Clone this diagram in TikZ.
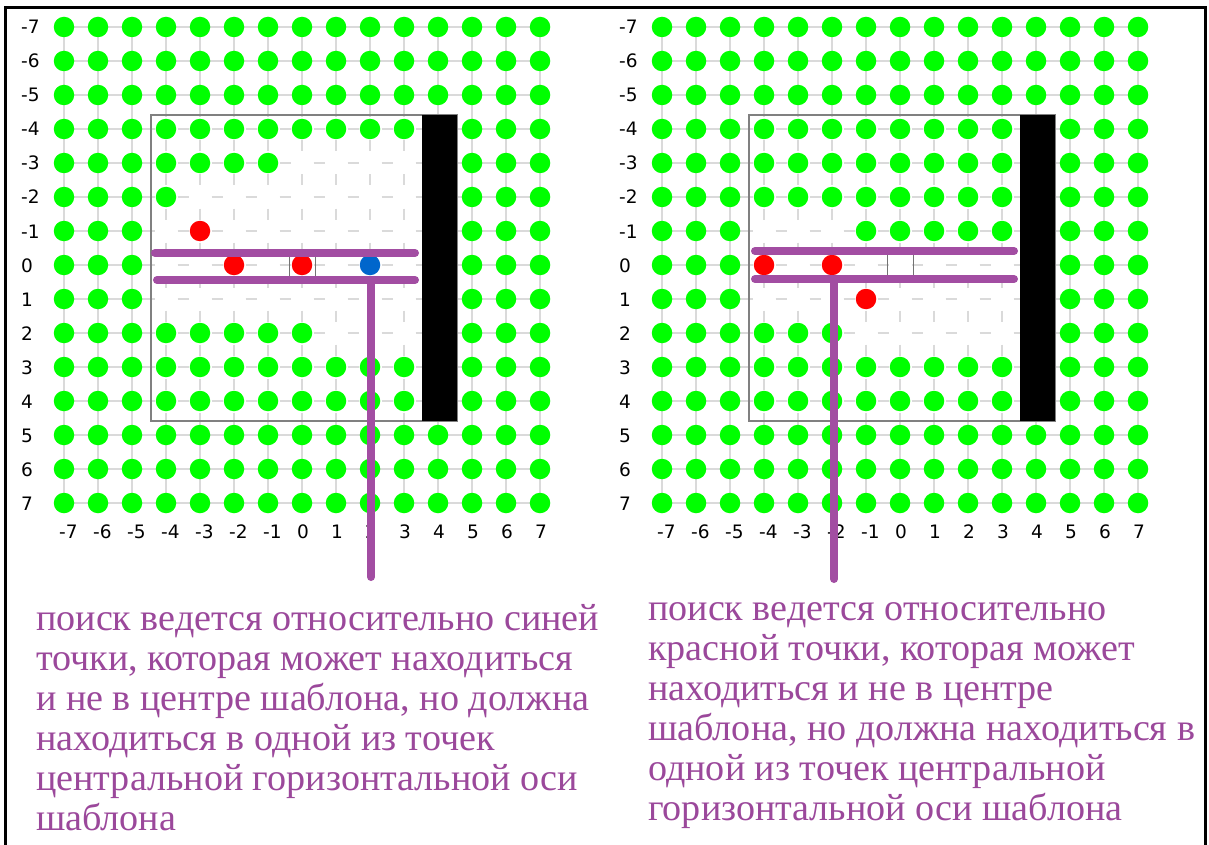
\documentclass[tikz,border=0pt]{standalone}
\usepackage{fontspec}
\setmainfont{Liberation Serif}
\newfontfamily\labfont{DejaVu Sans}
\definecolor{gline}{RGB}{218,218,218}
\definecolor{dotgreen}{RGB}{0,255,0}
\definecolor{pline}{RGB}{162,77,162}
\definecolor{ptext}{RGB}{155,72,155}
\definecolor{bdot}{RGB}{0,102,204}
\tikzset{
  gdot/.style={circle,fill=dotgreen,inner sep=0pt,minimum size=20.5pt},
  rdot/.style={gdot,fill=red},
  bldot/.style={gdot,fill=bdot},
  gridsolid/.style={draw=gline,line width=2.5pt},
  griddash/.style={draw=gline,line width=2pt,dash pattern=on 11pt off 23pt,dash phase=22.5pt},
  tmpl/.style={draw=black!50,line width=1.5pt},
  centbox/.style={draw=black!55,line width=1pt},
  plin/.style={draw=pline,line width=8pt,line cap=round},
  axlab/.style={font=\labfont\fontsize{18.5}{18.5}\selectfont,inner sep=0pt,anchor=base west},
  captxt/.style={font=\fontsize{38.1}{41}\selectfont,text=ptext,inner sep=0pt,anchor=base west},
  frame/.style={draw=black,line width=3pt}
}
% #1 prefix, #2 x of column 0
\newcommand\gridpanel[2]{%
  \foreach \k in {-7,...,7} {
    \draw[gridsolid] ({#2-238},{265+34*\k}) -- ({#2+238},{265+34*\k});
    \draw[gridsolid] ({#2+34*\k},27) -- ({#2+34*\k},503);
  }
  \fill[white] ({#2-151},115) rectangle ({#2+155},421);
  \begin{scope}
    \clip ({#2-151},115) rectangle ({#2+155},421);
    \foreach \k in {-4,...,4} {
      \draw[griddash] ({#2-170},{265+34*\k}) -- ({#2+170},{265+34*\k});
      \draw[griddash] ({#2+34*\k},95) -- ({#2+34*\k},435);
    }
  \end{scope}
  \draw[tmpl] ({#2-151},115) rectangle ({#2+155},421);
  \fill[black] ({#2+120},115) rectangle ({#2+155},421);
  \draw[centbox] ({#2-13},252) rectangle ({#2+13},278);
  \foreach \k in {-7,...,7} {
    \node[axlab] (#1row\k) at ({#2-281},{265+34*\k+7}) {\k};
    \node[axlab] (#1col\k) at ({#2+34*\k-5},538) {\k};
  }
}
% #1 prefix, #2 x of column 0, #3 rows spec
\newcommand\dotrows[3]{%
  \foreach \r/\cl in {#3} {
    \foreach \c in \cl {
      \node[gdot] (#1d\r x\c) at ({#2+34*\c},{265+34*\r}) {};
    }
  }
}
\begin{document}
\begin{tikzpicture}[x=1pt,y=-1pt]
\useasboundingbox (0,0) rectangle (1209,845);
\fill[white] (0,0) rectangle (1209,845);

% ---------- left panel ----------
\gridpanel{L}{302}
\dotrows{L}{302}{%
-7/{-7,-6,-5,-4,-3,-2,-1,0,1,2,3,4,5,6,7},
-6/{-7,-6,-5,-4,-3,-2,-1,0,1,2,3,4,5,6,7},
-5/{-7,-6,-5,-4,-3,-2,-1,0,1,2,3,4,5,6,7},
-4/{-7,-6,-5,-4,-3,-2,-1,0,1,2,3,5,6,7},
-3/{-7,-6,-5,-4,-3,-2,-1,5,6,7},
-2/{-7,-6,-5,-4,5,6,7},
-1/{-7,-6,-5,5,6,7},
0/{-7,-6,-5,5,6,7},
1/{-7,-6,-5,5,6,7},
2/{-7,-6,-5,-4,-3,-2,-1,0,5,6,7},
3/{-7,-6,-5,-4,-3,-2,-1,0,1,2,3,5,6,7},
4/{-7,-6,-5,-4,-3,-2,-1,0,1,2,3,5,6,7},
5/{-7,-6,-5,-4,-3,-2,-1,0,1,2,3,4,5,6,7},
6/{-7,-6,-5,-4,-3,-2,-1,0,1,2,3,4,5,6,7},
7/{-7,-6,-5,-4,-3,-2,-1,0,1,2,3,4,5,6,7}}
\node[rdot] (Lr1) at (200,231) {};
\node[rdot] (Lr2) at (234,265) {};
\node[rdot] (Lr3) at (302,265) {};
\node[bldot] (Lb) at (370,265) {};
\coordinate (Lu1) at (155,253);
\coordinate (Lu2) at (415,253);
\coordinate (Ll1) at (157,280);
\coordinate (Ll2) at (415,280);
\coordinate (Lv1) at (371,280);
\coordinate (Lv2) at (371,577);
\draw[plin] (Lu1) -- (Lu2);
\draw[plin] (Ll1) -- (Ll2);
\draw[plin] (Lv1) -- (Lv2);

% ---------- right panel ----------
\gridpanel{R}{900}
\dotrows{R}{900}{%
-7/{-7,-6,-5,-4,-3,-2,-1,0,1,2,3,4,5,6,7},
-6/{-7,-6,-5,-4,-3,-2,-1,0,1,2,3,4,5,6,7},
-5/{-7,-6,-5,-4,-3,-2,-1,0,1,2,3,4,5,6,7},
-4/{-7,-6,-5,-4,-3,-2,-1,0,1,2,3,5,6,7},
-3/{-7,-6,-5,-4,-3,-2,-1,0,1,2,3,5,6,7},
-2/{-7,-6,-5,-4,-3,-2,-1,0,1,2,3,5,6,7},
-1/{-7,-6,-5,-1,0,1,2,3,5,6,7},
0/{-7,-6,-5,5,6,7},
1/{-7,-6,-5,5,6,7},
2/{-7,-6,-5,-4,-3,-2,5,6,7},
3/{-7,-6,-5,-4,-3,-2,-1,0,1,2,3,5,6,7},
4/{-7,-6,-5,-4,-3,-2,-1,0,1,2,3,5,6,7},
5/{-7,-6,-5,-4,-3,-2,-1,0,1,2,3,4,5,6,7},
6/{-7,-6,-5,-4,-3,-2,-1,0,1,2,3,4,5,6,7},
7/{-7,-6,-5,-4,-3,-2,-1,0,1,2,3,4,5,6,7}}
\node[rdot] (Rr1) at (764,265) {};
\node[rdot] (Rr2) at (832,265) {};
\node[rdot] (Rr3) at (866,299) {};
\coordinate (Ru1) at (755,251);
\coordinate (Ru2) at (1014,251);
\coordinate (Rl1) at (755,279);
\coordinate (Rl2) at (1014,279);
\coordinate (Rv1) at (834,279);
\coordinate (Rv2) at (834,579);
\draw[plin] (Ru1) -- (Ru2);
\draw[plin] (Rl1) -- (Rl2);
\draw[plin] (Rv1) -- (Rv2);

% ---------- captions ----------
\node[captxt] (ta1) at (36,630) {поиск ведется относительно синей};
\node[captxt] (ta2) at (36,670) {точки, которая может находиться};
\node[captxt] (ta3) at (36,710) {и не в центре шаблона, но должна};
\node[captxt] (ta4) at (36,750) {находиться в одной из точек};
\node[captxt] (ta5) at (36,790) {центральной горизонтальной оси};
\node[captxt] (ta6) at (36,830) {шаблона};

\node[captxt] (tb1) at (648,620) {поиск ведется относительно};
\node[captxt] (tb2) at (648,660) {красной точки, которая может};
\node[captxt] (tb3) at (648,700) {находиться и не в центре};
\node[captxt] (tb4) at (648,740) {шаблона, но должна находиться в};
\node[captxt] (tb5) at (648,780) {одной из точек центральной};
\node[captxt] (tb6) at (648,820) {горизонтальной оси шаблона};

% ---------- frame ----------
\coordinate (f1) at (5,845);
\coordinate (f2) at (5,8);
\coordinate (f3) at (1205,8);
\coordinate (f4) at (1205,845);
\draw[frame] (f1) -- (f2) -- (f3) -- (f4);
\end{tikzpicture}
\end{document}
